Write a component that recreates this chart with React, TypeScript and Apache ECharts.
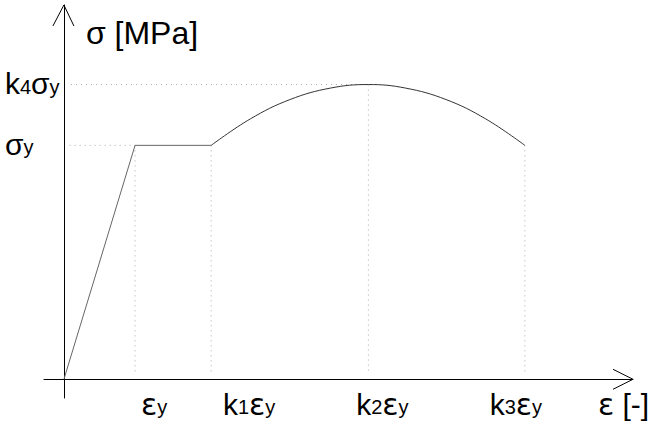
import React, { useEffect, useRef } from "react";
import * as echarts from "echarts";

// Strain values in units of εy; stress values in units of σy
const xTickValues = [1, 2.07, 4.28, 6.48];
const xTickLabels = ["{e|ε}{s|y}", "{m|k}{s|1}{e|ε}{s|y}", "{m|k}{s|2}{e|ε}{s|y}", "{m|k}{s|3}{e|ε}{s|y}"];
const yTickValues = [1, 1.26];
const yTickLabels = ["{m|σ}{s|y}", "{m|k}{s|4}{m|σ}{s|y}"];

// elastic branch + yield plateau
const linearX = [0, 1, 2.07];
const linearY = [0, 1, 1];
// hardening / softening branch
const curveX = [2.07, 2.62, 3.18, 3.75, 4.28, 4.8, 5.37, 5.93, 6.48];
const curveY = [1.0, 1.113, 1.196, 1.245, 1.26, 1.245, 1.196, 1.113, 1.0];

// dotted guide lines: [x1, y1, x2, y2]
const guides = [
  [0.08, 1, 1, 1],
  [0.1, 1.26, 4.28, 1.26],
  [1, 1, 1, 0.03],
  [2.07, 1, 2.07, 0.03],
  [4.28, 1.26, 4.28, 0.03],
  [6.48, 1, 6.48, 0.03],
];

const X_MIN = -0.28;
const X_MAX = 8;
const Y_MIN = -0.08;
const Y_MAX = 1.6;

const FONT = "'Liberation Sans', Arial, sans-serif";
const EPS_FONT = "'DejaVu Sans', sans-serif";
const LABEL_SIZE = 30;
const SUB_SIZE = 20;

const rich = {
  m: { fontSize: LABEL_SIZE, fontFamily: FONT, color: "#000", lineHeight: 26 },
  e: { fontSize: LABEL_SIZE, fontFamily: EPS_FONT, color: "#000", lineHeight: 26 },
  s: { fontSize: SUB_SIZE, fontFamily: FONT, color: "#000", lineHeight: 26, verticalAlign: "bottom" as const },
};

const xLabelOffsets = [19, 38, 14, -9];

export default function App() {
  const ref = useRef<HTMLDivElement>(null);
  useEffect(() => {
    if (!ref.current) return;
    const chart = echarts.init(ref.current, undefined, { renderer: "svg" });
    const guideSeries = guides.map((g) => ({
      type: "line",
      data: [
        [g[0], g[1]],
        [g[2], g[3]],
      ],
      symbol: "none",
      silent: true,
      lineStyle: { color: "#aaa", width: 1, type: [1, 4] },
    }));
    chart.setOption({
      animation: false,
      grid: { left: 44, right: 22, top: 5, bottom: 25 },
      xAxis: {
        type: "value",
        min: X_MIN,
        max: X_MAX,
        axisLine: { show: true, onZero: true, lineStyle: { color: "#000", width: 1 } },
        axisTick: { show: false },
        axisLabel: { show: false },
        splitLine: { show: false },
      },
      yAxis: {
        type: "value",
        min: Y_MIN,
        max: Y_MAX,
        axisLine: { show: true, onZero: true, lineStyle: { color: "#000", width: 1 } },
        axisTick: { show: false },
        axisLabel: { show: false },
        splitLine: { show: false },
      },
      series: [
        ...guideSeries,
        {
          type: "line",
          data: linearX.map((x, i) => [x, linearY[i]]),
          symbol: "none",
          lineStyle: { color: "#666", width: 1 },
        },
        {
          type: "line",
          data: curveX.map((x, i) => [x, curveY[i]]),
          symbol: "none",
          smooth: 0.4,
          lineStyle: { color: "#333", width: 1 },
        },
      ],
    });

    const px = (x: number, y: number) => chart.convertToPixel({ gridIndex: 0 }, [x, y]) as number[];
    const xTip = px(X_MAX, 0);
    const yTip = px(0, Y_MAX);
    const origin = px(0, 0);

    const graphics: any[] = [
      {
        type: "polyline",
        shape: { points: [[xTip[0] - 20, xTip[1] - 10], xTip, [xTip[0] - 20, xTip[1] + 10]] },
        style: { stroke: "#000", lineWidth: 1, fill: "none" },
      },
      {
        type: "polyline",
        shape: { points: [[yTip[0] - 11, yTip[1] + 21], yTip, [yTip[0] + 10, yTip[1] + 21]] },
        style: { stroke: "#000", lineWidth: 1, fill: "none" },
      },
      {
        type: "text",
        x: yTip[0] + 22,
        y: yTip[1] + 28,
        style: { text: "σ [MPa]", font: `32px ${FONT}`, fill: "#000", align: "left", verticalAlign: "middle" },
      },
      {
        type: "text",
        x: xTip[0] - 35,
        y: xTip[1] + 25,
        style: {
          text: "{e|ε}{m| [-]}",
          rich,
          align: "left",
          verticalAlign: "middle",
        },
      },
    ];
    xTickValues.forEach((v, i) => {
      const p = px(v, 0);
      graphics.push({
        type: "text",
        x: p[0] + xLabelOffsets[i],
        y: p[1] + 25,
        style: { text: xTickLabels[i], rich, align: "center", verticalAlign: "middle" },
      });
    });
    yTickValues.forEach((v, i) => {
      const p = px(0, v);
      graphics.push({
        type: "text",
        x: origin[0] - 59,
        y: p[1] - 1,
        style: { text: yTickLabels[i], rich, align: "left", verticalAlign: "middle" },
      });
    });
    chart.setOption({ graphic: graphics });
    return () => chart.dispose();
  }, []);
  return <div ref={ref} style={{ width: 655, height: 423, position: "absolute", left: 0, top: 0, background: "#fff" }} />;
}
